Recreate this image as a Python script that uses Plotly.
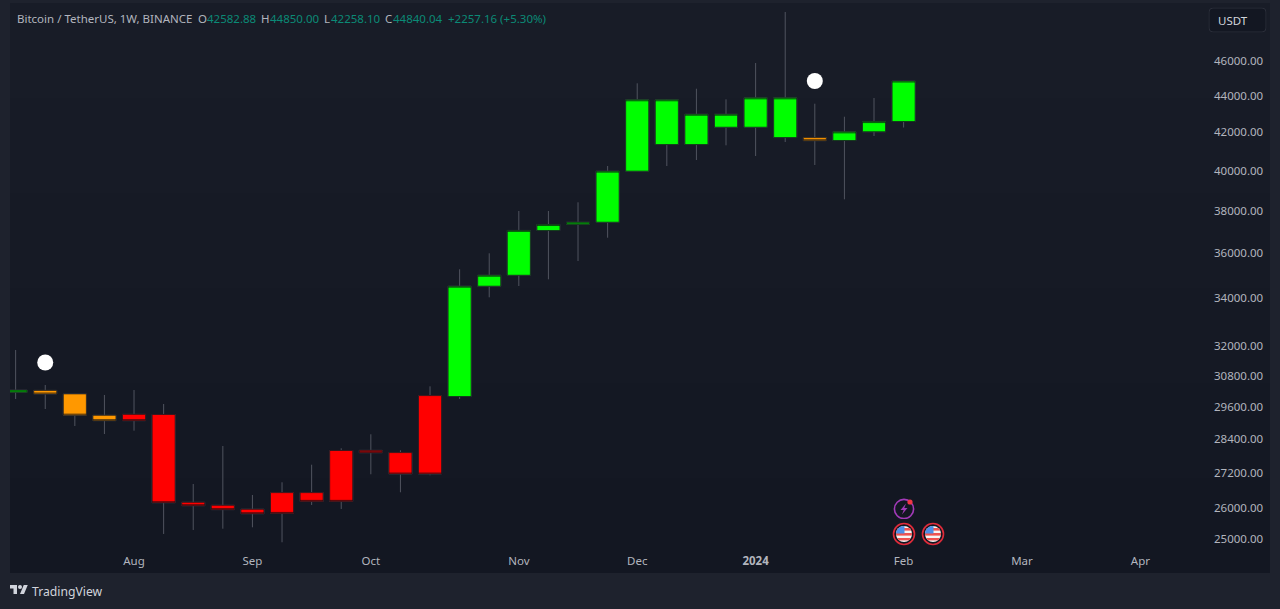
import base64
import pandas as pd
import plotly.graph_objects as go

# ---- data ----
week_start = "2023-07-10"
bar_count = 31
bar_colors = ["green", "orange", "orange", "orange", "red", "red", "red", "red", "red", "red", "red",
              "red", "red", "red", "red", "green", "green", "green", "green", "green", "green", "green",
              "green", "green", "green", "green", "green", "orange", "green", "green", "green"]
opens = [30150, 30220, 30085, 29275, 29310, 29305, 26200, 26100, 25970, 26525, 26525,
         27990, 27995, 27915, 30020, 29985, 34515, 35000, 37055, 37345, 37450, 39970,
         41350, 41350, 42275, 42275, 41720, 41720, 41565, 42030, 42582.88]
highs = [31818, 30427, 30068, 30043, 30234, 29699, 26819, 28151, 26445, 26877, 27487,
         28068, 28574, 27997, 30377, 35267, 35994, 37990, 37990, 38414, 40234, 44710,
         43806, 44403, 43806, 45883, 48968, 43562, 42845, 43880, 44850.00]
lows = [29889, 29510, 28878, 28584, 28705, 25162, 25290, 25332, 25377, 24897, 26110,
        25977, 27153, 26536, 27118, 29889, 34030, 34523, 34820, 35642, 36718, 39978,
        40234, 40543, 41310, 40750, 41485, 40285, 38561, 41803, 42258.10]
closes = [30230, 30080, 29280, 29075, 29075, 26185, 26085, 25955, 25820, 25830, 26230,
          26230, 27910, 27160, 27160, 34515, 35000, 37060, 37340, 37450, 39970, 43780,
          43780, 42980, 42980, 43890, 43890, 41555, 42025, 42580, 44840.04]

marker_dates = ["2023-07-17", "2024-01-15"]
marker_prices = [31315, 44842]

y_ticks = [46000, 44000, 42000, 40000, 38000, 36000, 34000, 32000, 30800, 29600, 28400, 27200, 26000, 25000]
y_tick_labels = ["46000.00", "44000.00", "42000.00", "40000.00", "38000.00", "36000.00", "34000.00",
                 "32000.00", "30800.00", "29600.00", "28400.00", "27200.00", "26000.00", "25000.00"]
x_ticks = ["2023-08-07", "2023-09-04", "2023-10-02", "2023-11-06", "2023-12-04", "2024-01-01",
           "2024-02-05", "2024-03-04", "2024-04-01"]
x_tick_labels = ["Aug", "Sep", "Oct", "Nov", "Dec", "<b>2024</b>", "Feb", "Mar", "Apr"]

# ---- style ----
FONT = "Noto Sans"
PALETTE = {"green": "#00ff00", "red": "#ff0000", "orange": "#ff9800"}
WICK = "#50545f"
OUTLINE = "#0b0e14"
TEAL = "#0b8a76"
TEXT = "#b2b5be"
W, H = 1280, 609
L, T, PW, PH = 10, 3, 1160, 546

dates = pd.date_range(week_start, periods=bar_count, freq="7D")


def px(x):
    return (x - L) / PW


def py(y):
    return 1 - (y - T) / PH


fig = go.Figure()

fig.add_trace(go.Candlestick(
    x=dates, open=opens, high=highs, low=lows, close=closes, whiskerwidth=0,
    increasing=dict(line=dict(color=WICK, width=1), fillcolor="rgba(0,0,0,0)"),
    decreasing=dict(line=dict(color=WICK, width=1), fillcolor="rgba(0,0,0,0)"),
    hoverinfo="skip", showlegend=False,
))
for name, color in PALETTE.items():
    idx = [i for i, c in enumerate(bar_colors) if c == name]
    fig.add_trace(go.Candlestick(
        x=[dates[i] for i in idx],
        open=[opens[i] for i in idx],
        high=[max(opens[i], closes[i]) for i in idx],
        low=[min(opens[i], closes[i]) for i in idx],
        close=[closes[i] for i in idx],
        whiskerwidth=0,
        increasing=dict(line=dict(color=OUTLINE, width=0.7), fillcolor=color),
        decreasing=dict(line=dict(color=OUTLINE, width=0.7), fillcolor=color),
        hoverinfo="skip", showlegend=False, name=name,
    ))
fig.add_trace(go.Scatter(x=marker_dates, y=marker_prices, mode="markers",
                         marker=dict(size=16, color="#ffffff", line=dict(width=0)),
                         hoverinfo="skip", showlegend=False))

# pane background, a soft top-to-bottom gradient
strips = ["#181c27", "#171b26", "#161a25", "#151924", "#141823", "#131722"]
shapes = []
for i, col in enumerate(strips):
    y0 = 3 + 570 * i / len(strips)
    y1 = 3 + 570 * (i + 1) / len(strips)
    shapes.append(dict(type="rect", xref="paper", yref="paper", layer="below",
                       x0=px(10), x1=px(1270), y0=py(y0), y1=py(y1),
                       fillcolor=col, line=dict(width=0)))


def svg_uri(body, w, h):
    svg = f'<svg xmlns="http://www.w3.org/2000/svg" width="{w}" height="{h}" viewBox="0 0 {w} {h}">{body}</svg>'
    return "data:image/svg+xml;base64," + base64.b64encode(svg.encode()).decode()


def image(uri, x, y, w, h):
    return dict(source=uri, xref="paper", yref="paper", x=px(x), y=py(y), sizex=w / PW, sizey=h / PH,
                xanchor="left", yanchor="top", sizing="stretch", layer="above")


flag = (
    '<circle cx="12" cy="12" r="10.5" fill="#131722" stroke="#e02b3a" stroke-width="1.6"/>'
    '<clipPath id="c"><circle cx="12" cy="12" r="8"/></clipPath>'
    '<g clip-path="url(#c)"><rect x="3" y="3" width="18" height="18" fill="#f5f5f5"/>'
    '<rect x="3" y="6" width="18" height="2.6" fill="#ef5350"/>'
    '<rect x="3" y="11" width="18" height="2.6" fill="#ef5350"/>'
    '<rect x="3" y="16" width="18" height="2.4" fill="#ef5350"/>'
    '<rect x="3" y="3" width="9.5" height="8.5" fill="#4d8fe8"/></g>'
)
bolt = (
    '<circle cx="11" cy="12" r="9.6" fill="none" stroke="#a23ab8" stroke-width="1.6"/>'
    '<path d="M13 6.5 L7.5 13 L10.7 13 L9 17.5 L14.5 11 L11.3 11 Z" fill="#a23ab8"/>'
    '<circle cx="17" cy="5" r="2.6" fill="#f23645"/>'
)
logo = ('<path d="M14 22H7V11H0V4h14v18zM28 22h-8l7.5-18h8L28 22z" fill="#d1d4dc"/>'
        '<circle cx="20" cy="8" r="4" fill="#d1d4dc"/>')
button = '<rect x="0.5" y="0.5" width="57" height="24" rx="4" fill="#131722" stroke="#2a2e39"/>'

images = [
    image(svg_uri(bolt, 22, 22), 893, 497, 22, 22),
    image(svg_uri(flag, 24, 24), 892, 522, 24, 24),
    image(svg_uri(flag, 24, 24), 921, 522, 24, 24),
    image(svg_uri(logo, 36, 28), 10, 583, 18, 14),
    image(svg_uri(button, 58, 25), 1208.5, 7.5, 58, 25),
]


def label(text, x, y, color=TEXT, size=11.5):
    return dict(text=text, xref="paper", yref="paper", x=px(x), y=py(y), xanchor="left", yanchor="middle",
                showarrow=False, font=dict(family=FONT, size=size, color=color), borderpad=0, borderwidth=0)


annotations = [
    label("Bitcoin / TetherUS, 1W, BINANCE", 17, 18),
    label("O", 198, 18),
    label("42582.88", 207, 18, TEAL),
    label("H", 261, 18),
    label("44850.00", 270, 18, TEAL),
    label("L", 324, 18),
    label("42258.10", 331, 18, TEAL),
    label("C", 385, 18),
    label("44840.04", 393, 18, TEAL),
    label("+2257.16 (+5.30%)", 448, 18, TEAL),
    label("USDT", 1218, 20, "#d1d4dc", 11.5),
    label("TradingView", 32, 591, "#d1d4dc", 12.2),
]

fig.update_layout(
    width=W, height=H, margin=dict(l=L, r=W - L - PW, t=T, b=H - T - PH, pad=0),
    paper_bgcolor="#1e222d", plot_bgcolor="rgba(0,0,0,0)",
    boxgap=0.22, boxgroupgap=0, showlegend=False, shapes=shapes, images=images, annotations=annotations,
    font=dict(family=FONT, size=11.5, color=TEXT), hovermode=False,
    xaxis=dict(type="date", range=["2023-07-08 16:00", "2024-04-08"], rangeslider=dict(visible=False),
               showgrid=False, zeroline=False, showline=False, ticks="", tickmode="array",
               tickvals=x_ticks, ticktext=x_tick_labels, tickangle=0, ticklabelstandoff=3,
               tickfont=dict(family=FONT, size=11.5, color=TEXT)),
    yaxis=dict(type="log", side="right", range=[4.39242, 4.69490], showgrid=False, zeroline=False,
               showline=False, ticks="", tickmode="array", tickvals=y_ticks, ticktext=y_tick_labels,
               ticklabelstandoff=43, tickfont=dict(family=FONT, size=11.5, color=TEXT)),
)

fig.write_html("out.html", config=dict(displayModeBar=False),
               post_script="document.body.style.margin='0';document.body.style.overflow='hidden';")
